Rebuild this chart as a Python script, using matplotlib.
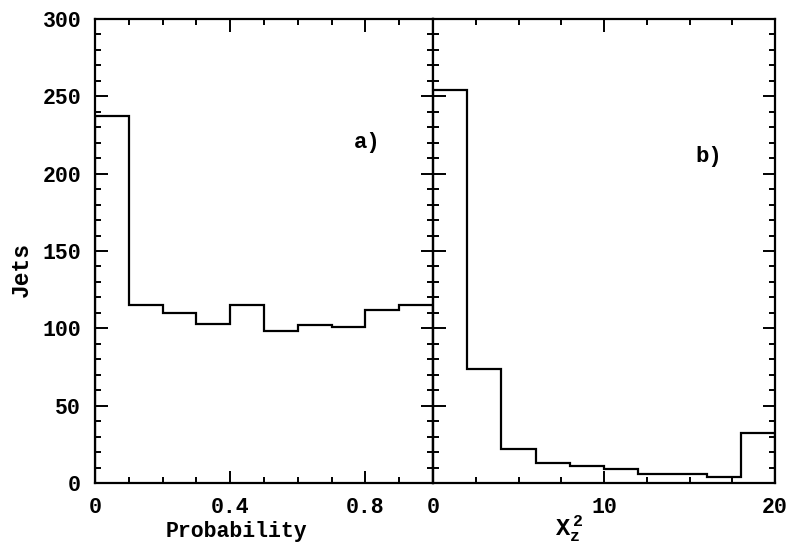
import numpy as np
import matplotlib
matplotlib.use("Agg")
import matplotlib.pyplot as plt
from matplotlib.ticker import MultipleLocator, FixedLocator

plt.rcParams["font.family"] = ["Liberation Mono", "DejaVu Sans"]
plt.rcParams["font.weight"] = "bold"
plt.rcParams["mathtext.fontset"] = "custom"
plt.rcParams["mathtext.rm"] = "Liberation Mono:bold"
plt.rcParams["mathtext.bf"] = "Liberation Mono:bold"
plt.rcParams["mathtext.it"] = "Liberation Mono:bold"

# a) fit probability per jet
prob_edges = [0.0, 0.1, 0.2, 0.3, 0.4, 0.5, 0.6, 0.7, 0.8, 0.9, 1.0]
prob_counts = [237, 115, 110, 103, 115, 98, 102, 101, 112, 115]

# b) chi-square of the z fit (last bin holds the overflow)
chi2_edges = [0, 2, 4, 6, 8, 10, 12, 14, 16, 18, 20]
chi2_counts = [254, 74, 22, 13, 11, 9, 6, 6, 4, 32]

fig = plt.figure(figsize=(7.87, 5.46), dpi=100)
ax_a = fig.add_axes([0.1207, 0.1154, 0.4295, 0.8498])
ax_b = fig.add_axes([0.5502, 0.1154, 0.4346, 0.8498], sharey=ax_a)

for ax in (ax_a, ax_b):
    for sp in ax.spines.values():
        sp.set_linewidth(1.6)
    ax.set_ylim(0, 300)
    ax.yaxis.set_major_locator(MultipleLocator(50))
    ax.yaxis.set_minor_locator(MultipleLocator(10))
    ax.tick_params(which="both", direction="in", top=True, right=True,
                   width=1.4, labelsize=15.5)
    ax.tick_params(axis="x", pad=10)
    ax.tick_params(axis="y", pad=10)
    ax.tick_params(which="major", length=9)
    ax.tick_params(which="minor", length=4.5)

ax_a.stairs(prob_counts, prob_edges, color="black", linewidth=1.6)
ax_a.set_xlim(0, 1.0)
ax_a.xaxis.set_major_locator(FixedLocator([0, 0.4, 0.8]))
ax_a.xaxis.set_minor_locator(MultipleLocator(0.1))
ax_a.set_xticklabels(["0", "0.4", "0.8"])
ax_a.set_ylabel("Jets", fontsize=16.5, fontweight="bold")
ax_a.yaxis.set_label_coords(-0.185, 0.461)
ax_a.set_xlabel("Probability", fontsize=15.5, fontweight="bold")
ax_a.xaxis.set_label_coords(0.419, -0.081)
ax_a.text(0.806, 220, "a)", fontsize=16, fontweight="bold", ha="center", va="center")

ax_b.stairs(chi2_counts, chi2_edges, color="black", linewidth=1.6)
ax_b.set_xlim(0, 20)
ax_b.xaxis.set_major_locator(MultipleLocator(10))
ax_b.xaxis.set_minor_locator(MultipleLocator(2.5))
ax_b.tick_params(labelleft=False)
ax_b.set_xlabel(r"$\mathbf{X_z^{\ 2}}$", fontsize=17)
ax_b.xaxis.set_label_coords(0.40, -0.066)
ax_b.text(16.1, 211, "b)", fontsize=16, fontweight="bold", ha="center", va="center")

fig.savefig("out.png", dpi=100)
